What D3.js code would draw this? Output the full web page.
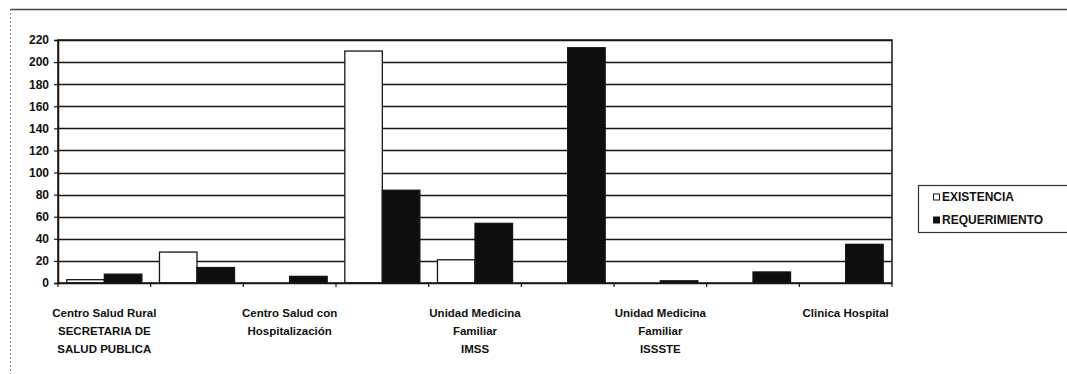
<!DOCTYPE html>
<html>
<head>
<meta charset="utf-8">
<script src="https://cdn.jsdelivr.net/npm/d3@7"></script>
<style>
  html, body { margin: 0; padding: 0; background: #fff; }
  svg { display: block; }
  text { font-family: "Liberation Sans", Arial, sans-serif; font-weight: bold; fill: #111; }
</style>
</head>
<body>
<svg id="chart" width="1067" height="374"></svg>
<script>
// ---- data ----
const categories = ["c1", "c2", "c3", "c4", "c5", "c6", "c7", "c8", "c9"];
const categoryLabels = [
  ["Centro Salud Rural", "SECRETARIA DE", "SALUD PUBLICA"],
  [],
  ["Centro Salud con", "Hospitalización"],
  [],
  ["Unidad Medicina", "Familiar", "IMSS"],
  [],
  ["Unidad Medicina", "Familiar", "ISSSTE"],
  [],
  ["Clinica Hospital"]
];
const seriesNames = ["EXISTENCIA", "REQUERIMIENTO"];
const existencia    = [3, 28, 0, 210, 21, 0, 0, 0, 0];
const requerimiento = [8, 14, 6, 84, 54, 213, 2, 10, 35];
const yTicks = [0, 20, 40, 60, 80, 100, 120, 140, 160, 180, 200, 220];

// ---- layout ----
const svg = d3.select("#chart");
const L = 58, R = 892, T = 40, B = 283;
const ink = "#161616";

// outer chart border (partially visible)
svg.append("line").attr("x1", 10).attr("x2", 1067).attr("y1", 9.5).attr("y2", 9.5)
  .attr("stroke", "#444").attr("stroke-width", 1.3);
svg.append("line").attr("x1", 10.5).attr("x2", 10.5).attr("y1", 9).attr("y2", 374)
  .attr("stroke", "#888").attr("stroke-width", 1).attr("stroke-dasharray", "2,2");

const x0 = d3.scaleBand().domain(categories).range([L, R]).paddingInner(0.19).paddingOuter(0.095);
const xBound = d3.scaleBand().domain(categories).range([L, R]);
const x1 = d3.scaleBand().domain(seriesNames).range([0, x0.bandwidth()]);
const y = d3.scaleLinear().domain([0, 220]).range([B, T]);

// gridlines
svg.append("g").selectAll("line").data(yTicks.filter(d => d > 0)).join("line")
  .attr("x1", L).attr("x2", R)
  .attr("y1", d => Math.round(y(d)) + 0.5).attr("y2", d => Math.round(y(d)) + 0.5)
  .attr("stroke", ink).attr("stroke-width", 1.3);

// bars
const series = [existencia, requerimiento];
const fills = ["#ffffff", "#0d0d0d"];
seriesNames.forEach((name, si) => {
  svg.append("g").selectAll("rect").data(categories.map((c, i) => ({c, v: series[si][i]})).filter(d => d.v > 0))
    .join("rect")
    .attr("x", d => x0(d.c) + x1(name))
    .attr("y", d => y(d.v))
    .attr("width", x1.bandwidth())
    .attr("height", d => B - y(d.v))
    .attr("fill", fills[si])
    .attr("stroke", ink).attr("stroke-width", 1.3);
});

// plot area border
svg.append("rect").attr("x", L).attr("y", T).attr("width", R - L).attr("height", B - T)
  .attr("fill", "none").attr("stroke", ink).attr("stroke-width", 1.5);

// y axis
const yAxis = svg.append("g").attr("transform", `translate(${L},0)`)
  .call(d3.axisLeft(y).tickValues(yTicks).tickSize(4).tickPadding(5));
yAxis.select(".domain").attr("stroke", ink).attr("stroke-width", 1.5);
yAxis.selectAll(".tick line").attr("stroke", ink).attr("stroke-width", 1.2);
yAxis.selectAll("text").attr("font-size", "12px").attr("font-family", "Liberation Sans, Arial, sans-serif")
  .attr("font-weight", "bold").attr("fill", "#111");

// x axis tick marks at category boundaries
const bounds = categories.map(c => xBound(c)).concat([R]);
svg.append("g").selectAll("line").data(bounds).join("line")
  .attr("x1", d => d).attr("x2", d => d).attr("y1", B).attr("y2", B + 4)
  .attr("stroke", ink).attr("stroke-width", 1.2);
svg.append("line").attr("x1", L).attr("x2", R).attr("y1", B + 0.5).attr("y2", B + 0.5)
  .attr("stroke", ink).attr("stroke-width", 1.5);

// category labels
const lab = svg.append("g");
categories.forEach((c, i) => {
  const lines = categoryLabels[i];
  if (!lines.length) return;
  const cx = xBound(c) + xBound.bandwidth() / 2;
  const t = lab.append("text").attr("text-anchor", "middle").attr("font-size", "11.5px")
    .attr("x", cx).attr("y", 317);
  lines.forEach((ln, k) => {
    t.append("tspan").attr("x", cx).attr("dy", k === 0 ? 0 : 18).text(ln);
  });
});

// legend
const lg = svg.append("g");
lg.append("rect").attr("x", 918.5).attr("y", 185.5).attr("width", 160).attr("height", 47)
  .attr("fill", "#fff").attr("stroke", "#333").attr("stroke-width", 1.2);
seriesNames.forEach((name, i) => {
  const yy = 197 + i * 23;
  lg.append("rect").attr("x", 933.5).attr("y", yy - 3).attr("width", 6).attr("height", 6)
    .attr("fill", fills[i]).attr("stroke", ink).attr("stroke-width", 1);
  lg.append("text").attr("x", 942).attr("y", yy + 4).attr("font-size", "12px").text(name);
});
</script>
</body>
</html>
